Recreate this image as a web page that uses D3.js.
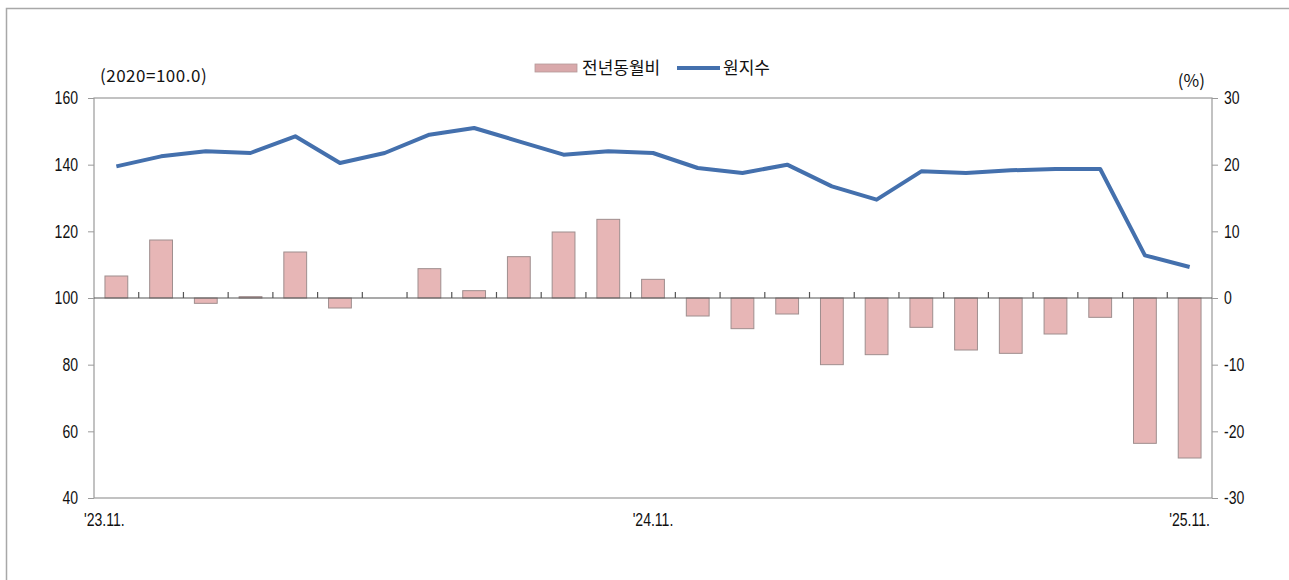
<!DOCTYPE html>
<html>
<head>
<meta charset="utf-8">
<script src="https://cdn.jsdelivr.net/npm/d3@7.9.0/dist/d3.min.js"></script>
<style>
  body { margin: 0; background: #fff; }
  svg text { font-family: "Liberation Sans", "DejaVu Sans", sans-serif; fill: #111; }
  .kr { font-family: "Noto Sans CJK KR", sans-serif !important; }
</style>
</head>
<body>
<svg id="chart" width="1289" height="580"></svg>
<script>
const months = ["'23.11.", "'23.12.", "'24.1.", "'24.2.", "'24.3.", "'24.4.", "'24.5.", "'24.6.", "'24.7.",
  "'24.8.", "'24.9.", "'24.10.", "'24.11.", "'24.12.", "'25.1.", "'25.2.", "'25.3.", "'25.4.", "'25.5.",
  "'25.6.", "'25.7.", "'25.8.", "'25.9.", "'25.10.", "'25.11."];
const shownLabels = ["'23.11.", "'24.11.", "'25.11."];

// 원지수 (2020=100.0)
const indexValues = [139.5, 142.5, 144.0, 143.5, 148.5, 140.5, 143.5, 149.0, 151.0, 147.0, 143.0, 144.0, 143.5,
  139.0, 137.5, 140.0, 133.5, 129.5, 138.0, 137.5, 138.3, 138.7, 138.7, 112.8, 109.3];
// 전년동월비 (%)
const yoyValues = [3.3, 8.7, -0.8, 0.2, 6.9, -1.5, 0.0, 4.4, 1.1, 6.2, 9.9, 11.8, 2.8,
  -2.7, -4.6, -2.4, -10.0, -8.5, -4.4, -7.8, -8.3, -5.4, -2.9, -21.8, -24.0];

const leftTicks = [40, 60, 80, 100, 120, 140, 160];
const rightTicks = [-30, -20, -10, 0, 10, 20, 30];

const svg = d3.select('#chart');
const m = { left: 94, right: 1212, top: 98, bottom: 498 };

// outer frame (only top/left edges fall inside the window)
svg.append('rect').attr('x', 6.5).attr('y', 8.5).attr('width', 1400).attr('height', 700)
  .attr('fill', 'none').attr('stroke', '#a8a8a8').attr('stroke-width', 1.5);

const x = d3.scaleBand().domain(months).range([m.left, m.right]).paddingInner(0.49).paddingOuter(0.245);
const yL = d3.scaleLinear().domain([40, 160]).range([m.bottom, m.top]);
const yR = d3.scaleLinear().domain([-30, 30]).range([m.bottom, m.top]);

// plot frame
svg.append('rect').attr('x', m.left).attr('y', m.top).attr('width', m.right - m.left).attr('height', m.bottom - m.top)
  .attr('fill', 'none').attr('stroke', '#9a9a9a').attr('stroke-width', 1.2);

// bars
svg.append('g').selectAll('rect').data(yoyValues).join('rect')
  .attr('x', (d, i) => x(months[i]))
  .attr('width', x.bandwidth())
  .attr('y', d => yR(Math.max(0, d)))
  .attr('height', d => Math.abs(yR(d) - yR(0)))
  .attr('fill', '#e7b6b6').attr('stroke', '#9e8e8e').attr('stroke-width', 1);

// zero line with category ticks between months
const zeroY = yR(0);
svg.append('line').attr('x1', m.left).attr('x2', m.right).attr('y1', zeroY).attr('y2', zeroY)
  .attr('stroke', '#555').attr('stroke-width', 1.2);
const step = x.step();
svg.append('g').selectAll('line').data(months.slice(1)).join('line')
  .attr('x1', d => x(d) - step * x.paddingInner() / 2).attr('x2', d => x(d) - step * x.paddingInner() / 2)
  .attr('y1', zeroY).attr('y2', zeroY - 6)
  .attr('stroke', '#555').attr('stroke-width', 1.2);

// line
const line = d3.line().x((d, i) => x(months[i]) + x.bandwidth() / 2).y(d => yL(d));
svg.append('path').datum(indexValues).attr('d', line)
  .attr('fill', 'none').attr('stroke', '#4470ad').attr('stroke-width', 4).attr('stroke-linejoin', 'round');

// left axis
const gL = svg.append('g').attr('transform', `translate(${m.left},0)`)
  .call(d3.axisLeft(yL).tickValues(leftTicks).tickSize(6).tickPadding(10));
gL.select('.domain').remove();
gL.selectAll('line').attr('stroke', '#9a9a9a');
gL.selectAll('text').attr('font-size', 18).style('font-family', null);

// right axis
const gR = svg.append('g').attr('transform', `translate(${m.right},0)`)
  .call(d3.axisRight(yR).tickValues(rightTicks).tickSize(6).tickPadding(6).tickFormat(d => d < 0 ? '-' + Math.abs(d) : d));
gR.select('.domain').remove();
gR.selectAll('line').attr('stroke', '#9a9a9a');
gR.selectAll('text').attr('font-size', 18).style('font-family', null);

// x labels
svg.append('g').attr('class', 'xl').selectAll('text').data(shownLabels).join('text')
  .attr('x', (d, i) => x(d) + x.bandwidth() / 2 - (i === 0 ? 12 : 0))
  .attr('y', m.bottom + 28)
  .attr('text-anchor', 'middle').attr('font-size', 18)
  .text(d => d);

// unit labels (spaced out like the original)
svg.append('text').attr('class', 'kr unit').attr('x', 100).attr('y', 82).attr('font-size', 17)
  .attr('letter-spacing', 0.5).style('font-family', '"Liberation Sans", sans-serif').text('(2020=100.0)');
svg.append('text').attr('class', 'kr unit').attr('x', 1205).attr('y', 87).attr('text-anchor', 'end').attr('font-size', 17)
  .style('font-family', '"Liberation Sans", sans-serif').text('(%)');

// legend
const lg = svg.append('g');
lg.append('rect').attr('x', 535).attr('y', 64).attr('width', 42).attr('height', 8)
  .attr('fill', '#d9a9ab').attr('stroke', '#b49a9a').attr('stroke-width', 0.8);
lg.append('text').attr('class', 'kr').attr('x', 582).attr('y', 74).attr('font-size', 17).text('전년동월비');
lg.append('line').attr('x1', 677).attr('x2', 720).attr('y1', 68).attr('y2', 68)
  .attr('stroke', '#4470ad').attr('stroke-width', 4);
lg.append('text').attr('class', 'kr').attr('x', 723).attr('y', 74).attr('font-size', 17).text('원지수');

// narrow the tick text to look like the condensed original face
svg.selectAll('text').filter(function () { return !this.classList.contains('kr'); })
  .each(function () {
    const w = this.getComputedTextLength();
    d3.select(this).attr('textLength', w * 0.78).attr('lengthAdjust', 'spacingAndGlyphs');
  });
</script>
</body>
</html>
